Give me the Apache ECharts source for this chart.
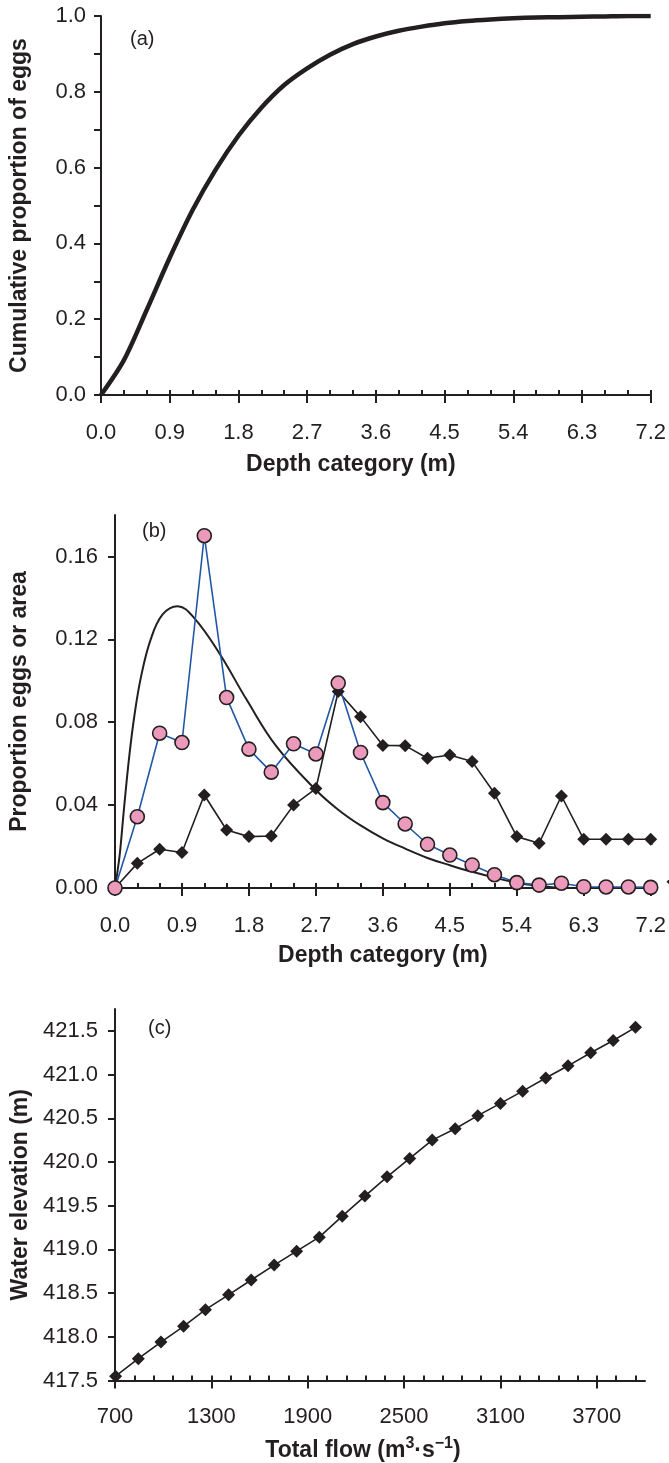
<!DOCTYPE html>
<html>
<head>
<meta charset="utf-8">
<script src="https://cdn.jsdelivr.net/npm/echarts@6/dist/echarts.min.js"></script>
<style>
html, body { margin: 0; padding: 0; background: #ffffff; }
#main { width: 669px; height: 1463px; }
</style>
</head>
<body>
<div id="main"></div>
<script>
// depth categories (m), shared by panels (a) and (b)
var depthBins = [0, 0.3, 0.6, 0.9, 1.2, 1.5, 1.8, 2.1, 2.4, 2.7, 3.0, 3.3, 3.6,
                 3.9, 4.2, 4.5, 4.8, 5.1, 5.4, 5.7, 6.0, 6.3, 6.6, 6.9, 7.2];

// (a) cumulative proportion of eggs
var cumulativeEggs = [0, 0.092, 0.225, 0.362, 0.488, 0.594, 0.684, 0.758, 0.818, 0.862, 0.898, 0.926, 0.946,
                      0.961, 0.972, 0.981, 0.987, 0.991, 0.994, 0.996, 0.997, 0.998, 0.999, 1.0, 1.0];

// (b) proportion of eggs (pink circles)
var eggProp = [0, 0.0344, 0.0747, 0.0702, 0.170, 0.0919, 0.067, 0.0559, 0.0696, 0.0647, 0.0989, 0.0654, 0.0412,
               0.0309, 0.0211, 0.0159, 0.0111, 0.0064, 0.0026, 0.0014, 0.0023, 0.0006, 0.0005, 0.0005, 0.0003];

// (b) proportion of area (black diamonds), last point runs past the axis end
var areaDepth = [0, 0.3, 0.6, 0.9, 1.2, 1.5, 1.8, 2.1, 2.4, 2.7, 3.0, 3.3, 3.6,
                 3.9, 4.2, 4.5, 4.8, 5.1, 5.4, 5.7, 6.0, 6.3, 6.6, 6.9, 7.2, 7.5];
var areaProp = [0, 0.0119, 0.0187, 0.0171, 0.0449, 0.028, 0.0248, 0.0251, 0.040, 0.048, 0.0948, 0.0827, 0.0688,
                0.0687, 0.0626, 0.0642, 0.061, 0.0457, 0.0248, 0.0216, 0.0444, 0.0235, 0.0235, 0.0235, 0.0235, 0.003];

// (b) fitted curve
var fitDepth = [0, 0.06, 0.09, 0.12, 0.19, 0.26, 0.35, 0.48, 0.64, 0.84, 1.06, 1.4, 1.77,
                2.17, 2.7, 3.0, 3.3, 3.6, 3.9, 4.2, 4.5, 4.8, 5.1, 5.4, 5.7, 6.0];
var fitProp = [0, 0.015, 0.026, 0.038, 0.063, 0.083, 0.102, 0.12, 0.132, 0.136, 0.1305, 0.1134, 0.0908,
               0.0683, 0.0473, 0.0378, 0.0302, 0.024, 0.019, 0.0145, 0.011, 0.0078, 0.005, 0.0025, 0.001, 0];

// (c) water elevation vs total flow
var flowRate = [704, 845, 986, 1127, 1263, 1407, 1548, 1691, 1831, 1972, 2115, 2256,
                2394, 2535, 2675, 2818, 2959, 3100, 3238, 3382, 3521, 3662, 3802, 3941];
var waterElev = [417.55, 417.75, 417.94, 418.12, 418.31, 418.48, 418.65, 418.82, 418.98, 419.14, 419.38, 419.61,
                 419.83, 420.04, 420.25, 420.38, 420.53, 420.67, 420.81, 420.96, 421.10, 421.25, 421.39, 421.54];

// tick labels
var flowLabels = [700, 1300, 1900, 2500, 3100, 3700];
var flowMinorTicks = [700, 820, 940, 1060, 1180, 1300, 1420, 1540, 1660, 1780, 1900, 2020, 2140, 2260,
                      2380, 2500, 2620, 2740, 2860, 2980, 3100, 3220, 3340, 3460, 3580, 3700, 3820, 3940];
var elevTicks = [417.5, 418.0, 418.5, 419.0, 419.5, 420.0, 420.5, 421.0, 421.5];
var propTicks = [0, 0.04, 0.08, 0.12, 0.16];

var ink = '#231f20';
var font = 'Liberation Sans, Arial, sans-serif';
var labelSize = 22;
var nameSize = 23;

function pairs(xs, ys) {
	var out = [];
	for (var i = 0; i < ys.length; i++) {
		out.push([xs[i], ys[i]]);
	}
	return out;
}

// depth axis: labelled axis with short inside ticks + overlay with long outside major ticks
function depthAxes(gridIndex, gap, shift) {
	return [{
		type: 'value', gridIndex: gridIndex, position: 'bottom',
		min: 0, max: 7.2, interval: 0.9,
		name: 'Depth category (m)', nameLocation: 'middle', nameGap: gap,
		nameTextStyle: { fontFamily: font, fontSize: nameSize, fontWeight: 'bold', color: ink,
			padding: [0, shift, 0, 0] },
		axisLine: { onZero: false, lineStyle: { color: ink, width: 2 } },
		axisTick: { inside: true, length: 5, lineStyle: { color: ink, width: 2 } },
		minorTick: { show: true, splitNumber: 3, length: 5, lineStyle: { color: ink, width: 2 } },
		axisLabel: { margin: 27, fontFamily: font, fontSize: labelSize, color: ink,
			formatter: function(v) { return v.toFixed(1); } },
		splitLine: { show: false }
	}, {
		type: 'value', gridIndex: gridIndex, position: 'bottom',
		min: 0, max: 7.2, interval: 0.9,
		axisLine: { show: false, onZero: false },
		axisTick: { inside: false, length: 8, lineStyle: { color: ink, width: 2 } },
		axisLabel: { show: false },
		splitLine: { show: false }
	}];
}

var xAxes = depthAxes(0, 58, 50).concat(depthAxes(1, 56, 0)).concat([{
	type: 'value', gridIndex: 2, position: 'bottom',
	min: 700, max: 4000,
	name: 'Total flow (m{sup|3}·s{sup|−1})', nameLocation: 'middle', nameGap: 55,
	nameTextStyle: { fontFamily: font, fontSize: nameSize, fontWeight: 'bold', color: ink,
		padding: [0, 34, 0, 0],
		rich: { sup: { fontFamily: font, fontSize: 16, fontWeight: 'bold', color: ink, padding: [0, 0, 14, 0] } } },
	axisLine: { onZero: false, lineStyle: { color: ink, width: 2 } },
	axisTick: { inside: true, length: 5, customValues: flowMinorTicks, lineStyle: { color: ink, width: 2 } },
	axisLabel: { margin: 25, fontFamily: font, fontSize: labelSize, color: ink, customValues: flowLabels,
		formatter: function(v) { return String(v); } },
	splitLine: { show: false }
}, {
	type: 'value', gridIndex: 2, position: 'bottom',
	min: 700, max: 4000,
	axisLine: { show: false, onZero: false },
	axisTick: { inside: false, length: 8, customValues: flowLabels, lineStyle: { color: ink, width: 2 } },
	axisLabel: { show: false },
	splitLine: { show: false }
}]);

var yAxes = [{
	type: 'value', gridIndex: 0, min: 0, max: 1, interval: 0.2,
	name: 'Cumulative proportion of eggs', nameLocation: 'middle', nameGap: 70,
	nameTextStyle: { fontFamily: font, fontSize: nameSize, fontWeight: 'bold', color: ink },
	axisLine: { lineStyle: { color: ink, width: 2 } },
	axisTick: { length: 7, lineStyle: { color: ink, width: 2 } },
	minorTick: { show: true, splitNumber: 2, length: 7, lineStyle: { color: ink, width: 2 } },
	axisLabel: { margin: 15, fontFamily: font, fontSize: labelSize, color: ink,
		formatter: function(v) { return v.toFixed(1); } },
	splitLine: { show: false }
}, {
	type: 'value', gridIndex: 1, min: 0, max: 0.18,
	name: 'Proportion eggs or area', nameLocation: 'middle', nameGap: 84,
	nameTextStyle: { fontFamily: font, fontSize: nameSize, fontWeight: 'bold', color: ink },
	axisLine: { lineStyle: { color: ink, width: 2 } },
	axisTick: { length: 7, customValues: propTicks, lineStyle: { color: ink, width: 2 } },
	axisLabel: { margin: 17, fontFamily: font, fontSize: labelSize, color: ink, customValues: propTicks,
		formatter: function(v) { return v.toFixed(2); } },
	splitLine: { show: false }
}, {
	type: 'value', gridIndex: 2, min: 417.5, max: 421.75,
	name: 'Water elevation (m)', nameLocation: 'middle', nameGap: 78,
	nameTextStyle: { fontFamily: font, fontSize: nameSize, fontWeight: 'bold', color: ink },
	axisLine: { lineStyle: { color: ink, width: 2 } },
	axisTick: { length: 7, customValues: elevTicks, lineStyle: { color: ink, width: 2 } },
	axisLabel: { margin: 17, fontFamily: font, fontSize: labelSize, color: ink, customValues: elevTicks,
		formatter: function(v) { return v.toFixed(1); } },
	splitLine: { show: false }
}];

var option = {
	backgroundColor: '#ffffff',
	animation: false,
	title: [
		{ text: '(a)', left: 125, top: 24, textStyle: { fontFamily: font, fontSize: 20, fontWeight: 'normal', color: ink } },
		{ text: '(b)', left: 137, top: 516, textStyle: { fontFamily: font, fontSize: 20, fontWeight: 'normal', color: ink } },
		{ text: '(c)', left: 143, top: 1013, textStyle: { fontFamily: font, fontSize: 20, fontWeight: 'normal', color: ink } }
	],
	grid: [
		{ left: 101, top: 16, width: 553, height: 379 },
		{ left: 114, top: 515, width: 540, height: 373 },
		{ left: 115, top: 1009, width: 530, height: 373 }
	],
	xAxis: xAxes,
	yAxis: yAxes,
	series: [{
		// (a)
		type: 'line', xAxisIndex: 0, yAxisIndex: 0,
		data: pairs(depthBins, cumulativeEggs),
		smooth: 0.3, symbol: 'none',
		lineStyle: { color: ink, width: 4.5 }
	}, {
		// (b) fitted curve
		type: 'line', xAxisIndex: 2, yAxisIndex: 1,
		data: pairs(fitDepth, fitProp),
		smooth: 0.4, symbol: 'none',
		lineStyle: { color: ink, width: 2 }
	}, {
		// (b) area
		type: 'line', xAxisIndex: 2, yAxisIndex: 1,
		data: pairs(areaDepth, areaProp),
		clip: false,
		symbol: 'diamond', symbolSize: 13,
		itemStyle: { color: ink },
		lineStyle: { color: ink, width: 1.6 }
	}, {
		// (b) eggs
		type: 'line', xAxisIndex: 2, yAxisIndex: 1,
		data: pairs(depthBins, eggProp),
		symbol: 'circle', symbolSize: 14,
		itemStyle: { color: '#eb9abb', borderColor: ink, borderWidth: 1.6 },
		lineStyle: { color: '#2257a6', width: 1.6 }
	}, {
		// (c)
		type: 'line', xAxisIndex: 4, yAxisIndex: 2,
		data: pairs(flowRate, waterElev),
		symbol: 'diamond', symbolSize: 13,
		itemStyle: { color: ink },
		lineStyle: { color: ink, width: 1.6 }
	}]
};

var myChart = echarts.init(document.getElementById('main'));
myChart.setOption(option);
</script>
</body>
</html>
